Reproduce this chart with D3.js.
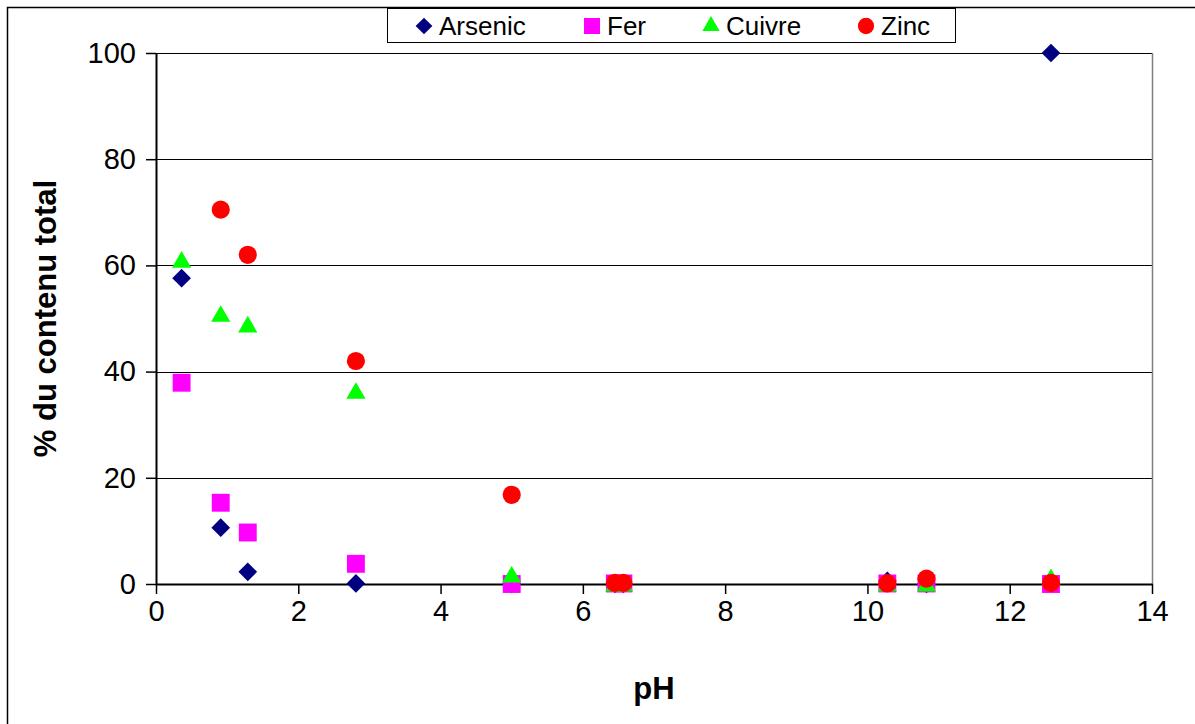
<!DOCTYPE html>
<html>
<head>
<meta charset="utf-8">
<script src="https://cdn.jsdelivr.net/npm/d3@7"></script>
<style>
  body { margin: 0; background: #fff; }
  text { font-family: "Liberation Sans", Arial, sans-serif; }
</style>
</head>
<body>
<div id="chart"></div>
<script>
// data
var ph      = [0.36, 0.91, 1.29, 2.81, 5.0, 6.45, 6.57, 10.28, 10.83, 12.58];
var arsenic = [57.6, 10.6, 2.3, 0.1, 0, 0, 0, 0.6, 0, 100];
var fer     = [37.9, 15.3, 9.7, 3.8, 0, 0.1, 0.1, 0.1, 0.1, 0];
var cuivre  = [61.0, 50.8, 48.8, 36.3, 1.7, 0, 0, 0, 0, 1.2];
var zinc    = [null, 70.5, 62.0, 42.0, 16.8, 0.2, 0.2, 0.1, 1.0, 0.2];
var seriesNames = ["Arsenic", "Fer", "Cuivre", "Zinc"];
var xTicks = [0, 2, 4, 6, 8, 10, 12, 14];
var yTicks = [0, 20, 40, 60, 80, 100];

//setup
var width = 1195,
    height = 724;
var plot = {left: 156, top: 53, right: 1152, bottom: 584};

var colors = {Arsenic: "#000080", Fer: "#ff00ff", Cuivre: "#00ff00", Zinc: "#ff0000"};
// arsenic is a square turned by 45 degrees
var shapes = {Arsenic: d3.symbolSquare, Fer: d3.symbolSquare, Cuivre: d3.symbolTriangle, Zinc: d3.symbolCircle};
var sizes = {Arsenic: 175, Fer: 320, Cuivre: 160, Zinc: 260};

var xScale = d3.scaleLinear().domain([0, 14]).range([plot.left, plot.right]);
var yScale = d3.scaleLinear().domain([0, 100]).range([plot.bottom, plot.top]);

var svg = d3.select("#chart").append("svg")
    .attr("width", width)
    .attr("height", height);

// outer chart border
svg.append("rect")
    .attr("x", 7.5).attr("y", 7.5)
    .attr("width", width + 20).attr("height", height + 20)
    .attr("fill", "none")
    .attr("stroke", "#000")
    .attr("stroke-width", 1.5);

// gridlines
svg.append("g")
    .selectAll("line").data(yTicks.slice(1))
    .enter().append("line")
    .attr("x1", plot.left).attr("x2", plot.right)
    .attr("y1", function (d) { return Math.round(yScale(d)) + 0.5; })
    .attr("y2", function (d) { return Math.round(yScale(d)) + 0.5; })
    .attr("stroke", "#000")
    .attr("stroke-width", 1);

// right plot border
svg.append("line")
    .attr("x1", plot.right + 0.5).attr("x2", plot.right + 0.5)
    .attr("y1", plot.top).attr("y2", plot.bottom)
    .attr("stroke", "#808080")
    .attr("stroke-width", 1.5);

// x axis
var xAxis = svg.append("g")
    .attr("transform", "translate(0," + plot.bottom + ")")
    .call(d3.axisBottom(xScale).tickValues(xTicks).tickSize(10).tickPadding(6).tickSizeOuter(0));
xAxis.select(".domain").attr("stroke", "#000").attr("stroke-width", 2);
xAxis.selectAll(".tick line").attr("stroke", "#000").attr("stroke-width", 1.5);
xAxis.selectAll(".tick text").attr("font-size", 29).attr("fill", "#000")
    .attr("font-family", "Liberation Sans, Arial, sans-serif");

// y axis
var yAxis = svg.append("g")
    .attr("transform", "translate(" + plot.left + ",0)")
    .call(d3.axisLeft(yScale).tickValues(yTicks).tickSize(10).tickPadding(10).tickSizeOuter(0));
yAxis.select(".domain").attr("stroke", "#000").attr("stroke-width", 2);
yAxis.selectAll(".tick line").attr("stroke", "#000").attr("stroke-width", 1.5);
yAxis.selectAll(".tick text").attr("font-size", 29).attr("fill", "#000")
    .attr("font-family", "Liberation Sans, Arial, sans-serif");

// axis titles
svg.append("text")
    .attr("x", (plot.left + plot.right) / 2)
    .attr("y", 699)
    .attr("text-anchor", "middle")
    .attr("font-size", 31)
    .attr("font-weight", "bold")
    .text("pH");

svg.append("text")
    .attr("transform", "translate(56," + (plot.top + plot.bottom) / 2 + ") rotate(-90)")
    .attr("text-anchor", "middle")
    .attr("font-size", 31)
    .attr("font-weight", "bold")
    .text("% du contenu total");

// points
var allSeries = [arsenic, fer, cuivre, zinc];
seriesNames.forEach(function (name, k) {
    var symbol = d3.symbol().type(shapes[name]).size(sizes[name]);
    var pts = allSeries[k].map(function (v, i) { return {x: ph[i], y: v}; })
        .filter(function (p) { return p.y !== null; });
    svg.append("g")
        .selectAll("path").data(pts)
        .enter().append("path")
        .attr("d", symbol)
        .attr("transform", function (d) {
            var dy = name === "Cuivre" ? 2 : 0;
            return "translate(" + xScale(d.x) + "," + (yScale(d.y) + dy) + ")" + (name === "Arsenic" ? " rotate(45)" : "");
        })
        .attr("fill", colors[name]);
});

// legend
var legend = svg.append("g");
legend.append("rect")
    .attr("x", 387.5).attr("y", 8.5)
    .attr("width", 568).attr("height", 34)
    .attr("fill", "#fff")
    .attr("stroke", "#000")
    .attr("stroke-width", 1);

var legendX = [424, 592, 711, 866];
seriesNames.forEach(function (name, k) {
    var symbol = d3.symbol().type(shapes[name]).size(sizes[name] * 0.8);
    legend.append("path")
        .attr("d", symbol)
        .attr("transform", "translate(" + legendX[k] + ",26)" + (name === "Arsenic" ? " rotate(45)" : ""))
        .attr("fill", colors[name]);
    legend.append("text")
        .attr("x", legendX[k] + 15)
        .attr("y", 26)
        .attr("dy", "0.36em")
        .attr("font-size", 26)
        .text(name);
});
</script>
</body>
</html>
